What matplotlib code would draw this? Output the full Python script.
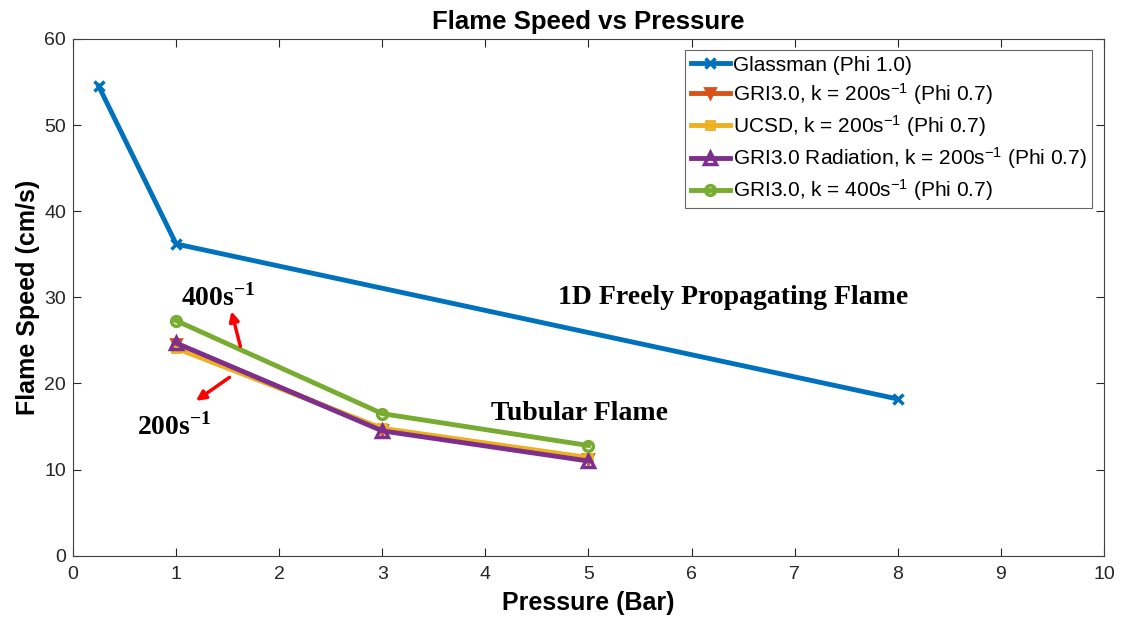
import matplotlib
matplotlib.use("Agg")
import matplotlib.pyplot as plt

# Laminar flame speed data
glassman_p = [0.25, 1, 8]
glassman_s = [54.5, 36.2, 18.2]

tube_p = [1, 3, 5]
gri_200 = [24.6, 14.6, 11.2]
ucsd_200 = [24.1, 14.8, 11.4]
gri_rad_200 = [24.7, 14.5, 11.0]
gri_400 = [27.3, 16.5, 12.8]

x_ticks = list(range(0, 11))
y_ticks = list(range(0, 61, 10))

plt.rcParams['font.family'] = ['Liberation Sans', 'DejaVu Sans']
plt.rcParams['mathtext.fontset'] = 'custom'
plt.rcParams['mathtext.rm'] = 'Liberation Sans'
plt.rcParams['mathtext.it'] = 'Liberation Sans:italic'
plt.rcParams['mathtext.bf'] = 'Liberation Serif:bold'

fig = plt.figure(figsize=(11.23, 6.28), dpi=100)
ax = fig.add_axes([0.065, 0.115, 0.918, 0.823])

lw = 3.5
ax.plot(glassman_p, glassman_s, color='#0072BD', lw=lw, marker='x', ms=7, mew=2.5,
        label='Glassman (Phi 1.0)')
ax.plot(tube_p, gri_200, color='#D95319', lw=lw, marker='v', ms=7, mew=2,
        label='GRI3.0, k = 200s$^{-1}$ (Phi 0.7)')
ax.plot(tube_p, ucsd_200, color='#EDB120', lw=lw, marker='s', ms=6, mew=2,
        mfc='none', label='UCSD, k = 200s$^{-1}$ (Phi 0.7)')
ax.plot(tube_p, gri_rad_200, color='#7E2F8E', lw=lw, marker='^', ms=8, mew=2.5,
        mfc='none', label='GRI3.0 Radiation, k = 200s$^{-1}$ (Phi 0.7)')
ax.plot(tube_p, gri_400, color='#77AC30', lw=lw, marker='o', ms=7, mew=2.5,
        mfc='none', label='GRI3.0, k = 400s$^{-1}$ (Phi 0.7)')

ax.set_xlim(0, 10)
ax.set_ylim(0, 60)
ax.set_xticks(x_ticks)
ax.set_yticks(y_ticks)
ax.tick_params(direction='in', length=6, labelsize=14, colors='#262626',
               top=True, right=True, labeltop=False, labelright=False, pad=5)
ax.tick_params(axis='x', pad=7)
for s in ax.spines.values():
    s.set_color('#404040')
    s.set_linewidth(0.8)

ax.set_title('Flame Speed vs Pressure', fontsize=18.5, fontweight='bold', pad=7)
ax.set_xlabel('Pressure (Bar)', fontsize=18, fontweight='bold', labelpad=6)
ax.set_ylabel('Flame Speed (cm/s)', fontsize=18, fontweight='bold', labelpad=3)

leg = ax.legend(loc='upper right', fontsize=15, frameon=True, fancybox=False,
                edgecolor='#404040', handlelength=1.9, handletextpad=0.15,
                borderpad=0.25, labelspacing=0.3, borderaxespad=0.55)
leg.get_frame().set_linewidth(0.8)

serif = dict(family=['Liberation Serif', 'DejaVu Serif'], fontweight='bold', fontsize=20)
ax.text(4.7, 30, '1D Freely Propagating Flame', **serif, va='center')
ax.text(4.05, 16.5, 'Tubular Flame', **serif, va='center')
ax.text(1.05, 30.0, '400s$^{\\mathbf{-1}}$', **serif, va='center')
ax.text(0.62, 15.0, '200s$^{\\mathbf{-1}}$', **serif, va='center')

arrow = dict(arrowstyle='-|>', color='red', lw=2.5, mutation_scale=14)
ax.annotate('', xy=(1.53, 28.7), xytext=(1.63, 24.0), arrowprops=arrow)
ax.annotate('', xy=(1.17, 17.8), xytext=(1.54, 20.9), arrowprops=arrow)

fig.savefig('out.png', dpi=100)
